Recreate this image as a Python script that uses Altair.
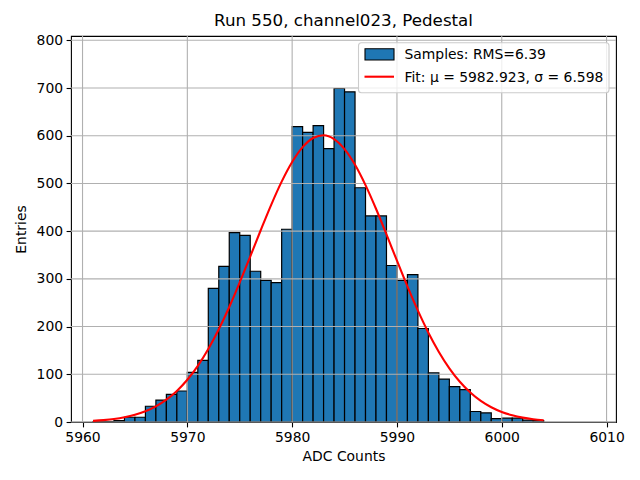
import altair as alt
import pandas as pd

# ---- data ----
bin_left = list(range(5961, 6004))
counts = [1, 1, 3, 10, 10, 33, 46, 58, 65, 104,
          129, 280, 326, 397, 391, 316, 297, 292, 404, 619,
          607, 621, 573, 699, 692, 491, 432, 432, 328, 297,
          309, 196, 103, 90, 74, 68, 22, 19, 7, 8,
          8, 4, 3]

fit_x = list(range(5961, 6005))
fit_y = [2.4, 4.0, 6.3, 9.9, 15.1, 22.5, 32.8, 46.7, 65.0, 88.5,
         117.6, 153.0, 194.3, 241.1, 292.6, 346.8, 401.9, 455.2, 503.8, 544.9,
         576.1, 595.2, 601.0, 593.0, 571.9, 539.0, 496.4, 446.9, 393.2, 338.1,
         284.1, 233.3, 187.2, 146.9, 112.6, 84.3, 61.8, 44.2, 30.9, 21.1,
         14.1, 9.2, 5.9, 3.7]

x_ticks = [5960, 5970, 5980, 5990, 6000, 6010]
y_ticks = [0, 100, 200, 300, 400, 500, 600, 700, 800]

title_text = "Run 550, channel023, Pedestal"
legend_labels = ["Samples: RMS=6.39", "Fit: \u03bc = 5982.923, \u03c3 = 6.598"]

FONT = "DejaVu Sans"
X_DOMAIN = [5958.9, 6010.9]
Y_DOMAIN = [0, 809]

hist_df = pd.DataFrame({
    "left": bin_left,
    "right": [b + 1 for b in bin_left],
    "count": counts,
})
fit_df = pd.DataFrame({"x": fit_x, "y": fit_y})
xg_df = pd.DataFrame({"v": x_ticks})
yg_df = pd.DataFrame({"v": y_ticks})
one = pd.DataFrame({"a": [0]})

xscale = alt.Scale(domain=X_DOMAIN, nice=False, zero=False)
yscale = alt.Scale(domain=Y_DOMAIN, nice=False)

bars = alt.Chart(hist_df).mark_rect(
    fill="#1f77b4", stroke="black", strokeWidth=1.2
).encode(
    x=alt.X("left:Q", scale=xscale,
            axis=alt.Axis(values=x_ticks, title="ADC Counts", format="d", titlePadding=5)),
    x2="right:Q",
    y=alt.Y("count:Q", scale=yscale,
            axis=alt.Axis(values=y_ticks, title="Entries", format="d", titlePadding=8)),
    y2=alt.datum(0),
)

xgrid = alt.Chart(xg_df).mark_rule(color="#b0b0b0", strokeWidth=1.1).encode(
    x=alt.X("v:Q", scale=xscale)
)
ygrid = alt.Chart(yg_df).mark_rule(color="#b0b0b0", strokeWidth=1.1).encode(
    y=alt.Y("v:Q", scale=yscale)
)

fit = alt.Chart(fit_df).mark_line(
    color="#ff0000", strokeWidth=2.1, interpolate="monotone"
).encode(
    x=alt.X("x:Q", scale=xscale),
    y=alt.Y("y:Q", scale=yscale),
)

# legend drawn by hand (matplotlib style)
leg_box = alt.Chart(one).mark_rect(
    fill="white", fillOpacity=0.8, stroke="#cccccc", strokeWidth=1.1, cornerRadius=3
).encode(x=alt.value(287.5), x2=alt.value(538), y=alt.value(6.7), y2=alt.value(56.7))
leg_patch = alt.Chart(one).mark_rect(
    fill="#1f77b4", stroke="black", strokeWidth=1.1
).encode(x=alt.value(294), x2=alt.value(323), y=alt.value(12.7), y2=alt.value(24))
leg_line = alt.Chart(one).mark_rule(color="#ff0000", strokeWidth=2.1).encode(
    x=alt.value(293.5), x2=alt.value(323), y=alt.value(40.7)
)
leg_t1 = alt.Chart(one).mark_text(
    align="left", baseline="middle", font=FONT, fontSize=13.9, color="black",
    text=legend_labels[0]
).encode(x=alt.value(333.5), y=alt.value(18.5))
leg_t2 = alt.Chart(one).mark_text(
    align="left", baseline="middle", font=FONT, fontSize=13.9, color="black",
    text=legend_labels[1]
).encode(x=alt.value(333.5), y=alt.value(41.5))

chart = alt.layer(
    bars, xgrid, ygrid, fit, leg_box, leg_patch, leg_line, leg_t1, leg_t2
).properties(
    width=545,
    height=386,
    background="white",
    autosize=alt.AutoSizeParams(type="none"),
    padding={"left": 63, "top": 28, "right": 16, "bottom": 50},
    title=alt.TitleParams(
        title_text, font=FONT, fontSize=16.7, fontWeight="normal",
        anchor="middle", frame="group", offset=4, color="black"
    ),
).configure_view(
    stroke="black", strokeWidth=1.1
).configure_axis(
    grid=False, domain=False,
    labelFont=FONT, labelFontSize=13.9, labelColor="black",
    titleFont=FONT, titleFontSize=13.9, titleFontWeight="normal", titleColor="black",
    tickColor="black", tickSize=4.9, tickWidth=1.1, labelPadding=3.5,
    labelFlush=False, labelOverlap=False,
)

chart.save("out.html", embed_options={"renderer": "svg", "actions": False})
